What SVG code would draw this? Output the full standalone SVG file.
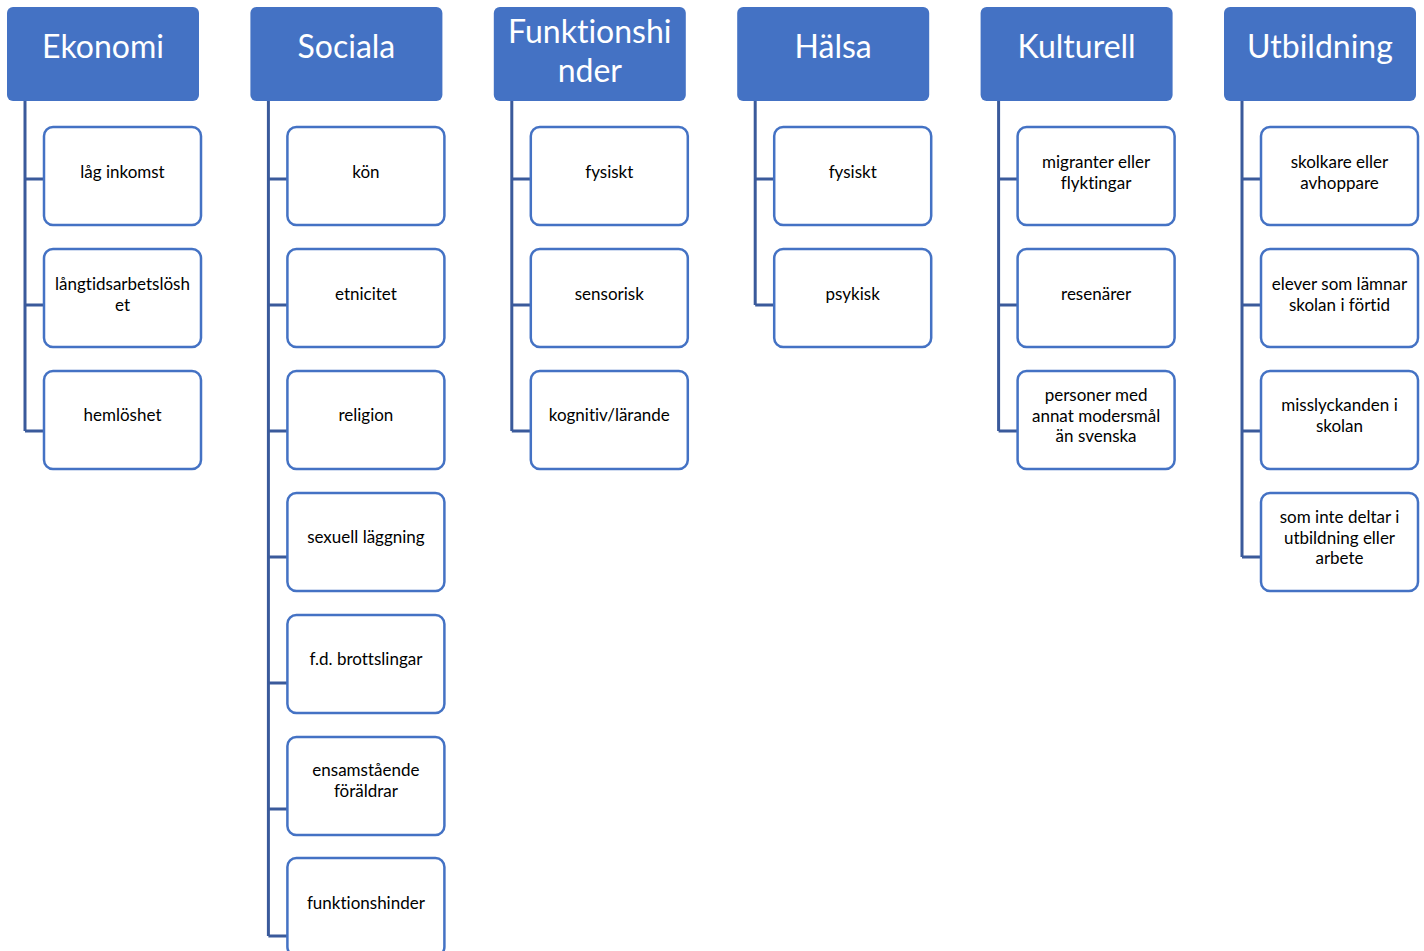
<svg xmlns="http://www.w3.org/2000/svg" width="1424" height="951" viewBox="0 0 1424 951">
<style>
.hd{fill:#4472C4;}
.ht{fill:#fff;font-family:Lato,"Liberation Sans",sans-serif;font-size:32px;text-anchor:middle;font-variant-ligatures:none;}
.ch{fill:#fff;stroke:#4472C4;stroke-width:2.5;}
.ct{fill:#000;font-family:Lato,"Liberation Sans",sans-serif;font-size:17px;text-anchor:middle;font-variant-ligatures:none;}
.cn{fill:none;stroke:#3A5A9B;stroke-width:3;}
</style>
<rect width="1424" height="951" fill="#fff"/>
<g id="connectors">
<path class="cn" d="M25,101 V431 M25,179 H44 M25,305 H44 M25,431 H44"/>
<path class="cn" d="M268.4,101 V936 M268.4,179 H287.4 M268.4,305 H287.4 M268.4,431 H287.4 M268.4,557 H287.4 M268.4,683 H287.4 M268.4,809 H287.4 M268.4,936 H287.4"/>
<path class="cn" d="M511.8,101 V431 M511.8,179 H530.8 M511.8,305 H530.8 M511.8,431 H530.8"/>
<path class="cn" d="M755.2,101 V305 M755.2,179 H774.2 M755.2,305 H774.2"/>
<path class="cn" d="M998.6,101 V431 M998.6,179 H1017.6 M998.6,305 H1017.6 M998.6,431 H1017.6"/>
<path class="cn" d="M1242,101 V557 M1242,179 H1261 M1242,305 H1261 M1242,431 H1261 M1242,557 H1261"/>
</g>
<g id="h-ekonomi"><rect class="hd" x="7" y="7" width="192" height="94" rx="6"/><text class="ht" x="103" y="58">Ekonomi</text></g>
<g id="h-sociala"><rect class="hd" x="250.4" y="7" width="192" height="94" rx="6"/><text class="ht" x="346.4" y="58">Sociala</text></g>
<g id="h-funktionshinder"><rect class="hd" x="493.8" y="7" width="192" height="94" rx="6"/><text class="ht" x="589.8" y="43">Funktionshi</text><text class="ht" x="589.8" y="82">nder</text></g>
<g id="h-halsa"><rect class="hd" x="737.2" y="7" width="192" height="94" rx="6"/><text class="ht" x="833.2" y="58">Hälsa</text></g>
<g id="h-kulturell"><rect class="hd" x="980.6" y="7" width="192" height="94" rx="6"/><text class="ht" x="1076.6" y="58">Kulturell</text></g>
<g id="h-utbildning"><rect class="hd" x="1224" y="7" width="192" height="94" rx="6"/><text class="ht" x="1320" y="58">Utbildning</text></g>

<g id="c-ekonomi-1"><rect class="ch" x="44" y="127" width="157" height="98" rx="9"/><text class="ct" x="122.5" y="178">låg inkomst</text></g>
<g id="c-ekonomi-2"><rect class="ch" x="44" y="249" width="157" height="98" rx="9"/><text class="ct" x="122.5" y="290">långtidsarbetslösh</text><text class="ct" x="122.5" y="310.5">et</text></g>
<g id="c-ekonomi-3"><rect class="ch" x="44" y="371" width="157" height="98" rx="9"/><text class="ct" x="122.5" y="421">hemlöshet</text></g>

<g id="c-sociala-1"><rect class="ch" x="287.4" y="127" width="157" height="98" rx="9"/><text class="ct" x="365.9" y="178">kön</text></g>
<g id="c-sociala-2"><rect class="ch" x="287.4" y="249" width="157" height="98" rx="9"/><text class="ct" x="365.9" y="300">etnicitet</text></g>
<g id="c-sociala-3"><rect class="ch" x="287.4" y="371" width="157" height="98" rx="9"/><text class="ct" x="365.9" y="421">religion</text></g>
<g id="c-sociala-4"><rect class="ch" x="287.4" y="493" width="157" height="98" rx="9"/><text class="ct" x="365.9" y="543">sexuell läggning</text></g>
<g id="c-sociala-5"><rect class="ch" x="287.4" y="615" width="157" height="98" rx="9"/><text class="ct" x="365.9" y="665">f.d. brottslingar</text></g>
<g id="c-sociala-6"><rect class="ch" x="287.4" y="737" width="157" height="98" rx="9"/><text class="ct" x="365.9" y="776">ensamstående</text><text class="ct" x="365.9" y="796.5">föräldrar</text></g>
<g id="c-sociala-7"><rect class="ch" x="287.4" y="858" width="157" height="98" rx="9"/><text class="ct" x="365.9" y="909">funktionshinder</text></g>

<g id="c-funk-1"><rect class="ch" x="530.8" y="127" width="157" height="98" rx="9"/><text class="ct" x="609.3" y="178">fysiskt</text></g>
<g id="c-funk-2"><rect class="ch" x="530.8" y="249" width="157" height="98" rx="9"/><text class="ct" x="609.3" y="300">sensorisk</text></g>
<g id="c-funk-3"><rect class="ch" x="530.8" y="371" width="157" height="98" rx="9"/><text class="ct" x="609.3" y="421">kognitiv/lärande</text></g>

<g id="c-halsa-1"><rect class="ch" x="774.2" y="127" width="157" height="98" rx="9"/><text class="ct" x="852.7" y="178">fysiskt</text></g>
<g id="c-halsa-2"><rect class="ch" x="774.2" y="249" width="157" height="98" rx="9"/><text class="ct" x="852.7" y="300">psykisk</text></g>

<g id="c-kultur-1"><rect class="ch" x="1017.6" y="127" width="157" height="98" rx="9"/><text class="ct" x="1096.1" y="168">migranter eller</text><text class="ct" x="1096.1" y="188.5">flyktingar</text></g>
<g id="c-kultur-2"><rect class="ch" x="1017.6" y="249" width="157" height="98" rx="9"/><text class="ct" x="1096.1" y="300">resenärer</text></g>
<g id="c-kultur-3"><rect class="ch" x="1017.6" y="371" width="157" height="98" rx="9"/><text class="ct" x="1096.1" y="401">personer med</text><text class="ct" x="1096.1" y="421.5">annat modersmål</text><text class="ct" x="1096.1" y="442">än svenska</text></g>

<g id="c-utb-1"><rect class="ch" x="1261" y="127" width="157" height="98" rx="9"/><text class="ct" x="1339.5" y="168">skolkare eller</text><text class="ct" x="1339.5" y="188.5">avhoppare</text></g>
<g id="c-utb-2"><rect class="ch" x="1261" y="249" width="157" height="98" rx="9"/><text class="ct" x="1339.5" y="290">elever som lämnar</text><text class="ct" x="1339.5" y="310.5">skolan i förtid</text></g>
<g id="c-utb-3"><rect class="ch" x="1261" y="371" width="157" height="98" rx="9"/><text class="ct" x="1339.5" y="411">misslyckanden i</text><text class="ct" x="1339.5" y="431.5">skolan</text></g>
<g id="c-utb-4"><rect class="ch" x="1261" y="493" width="157" height="98" rx="9"/><text class="ct" x="1339.5" y="523">som inte deltar i</text><text class="ct" x="1339.5" y="543.5">utbildning eller</text><text class="ct" x="1339.5" y="564">arbete</text></g>
</svg>
